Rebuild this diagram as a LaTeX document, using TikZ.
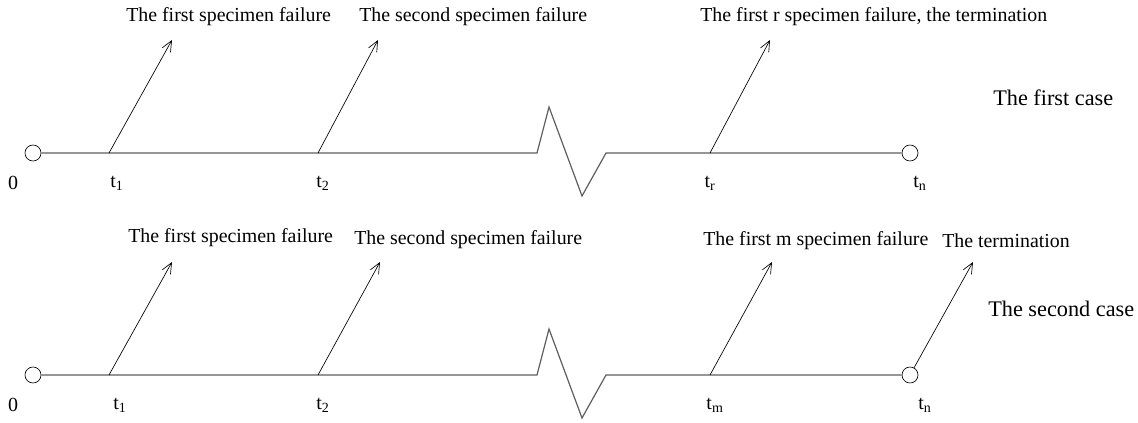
\documentclass[tikz,border=0pt]{standalone}
\usepackage{fontspec}
\setmainfont{Liberation Serif}
\usetikzlibrary{positioning,arrows.meta,calc}
\definecolor{axisgrey}{HTML}{5E5E5E}
\begin{document}
\begin{tikzpicture}[x=0.75pt,y=0.75pt,font=\fontsize{14.9}{17}\selectfont,
  axis/.style={draw=axisgrey,line width=0.9pt},
  endpt/.style={circle,draw,line width=0.5pt,minimum size=12pt,inner sep=0},
  fail/.style={-{Straight Barb[length=8pt,width=7pt]},line width=0.5pt},
  txt/.style={anchor=west,inner sep=0},
  casetxt/.style={txt,font=\fontsize{16.7}{19}\selectfont},
  tlab/.style={inner sep=0,font=\fontsize{15}{17}\selectfont}]
  \useasboundingbox (0,0) rectangle (1138,422);
  \def\timeline#1#2{
    \node[endpt] (o#1) at (33,#2) {};
    \node[endpt] (n#1) at (910,#2) {};
    \coordinate (b#1) at (537,#2);
    \coordinate (c#1) at (606,#2);
    \coordinate (ta#1) at (109,#2);
    \coordinate (tb#1) at (318,#2);
    \coordinate (tc#1) at (710,#2);
    \draw[axis] (o#1) -- (b#1) -- ++(12,46) -- ++(33,-89) -- (c#1) -- (n#1);
    \node[tlab] (z#1) at (13,#2-30) {0};}
  % first case
  \timeline{1}{269}
  \coordinate (pa1) at (172,382);
  \coordinate (pb1) at (378,382);
  \coordinate (pc1) at (770,382);
  \draw[fail] (ta1) -- (pa1);
  \draw[fail] (tb1) -- (pb1);
  \draw[fail] (tc1) -- (pc1);
  \node[txt] (la1) at (126,405) {The first specimen failure};
  \node[txt] (lb1) at (359,405) {The second specimen failure};
  \node[txt] (lc1) at (700,405) {The first r specimen failure, the termination};
  \node[casetxt] (case1) at (993,324) {The first case};
  \node[tlab] (sa1) at (117,239) {t\textsubscript{1}};
  \node[tlab] (sb1) at (323,239) {t\textsubscript{2}};
  \node[tlab] (sc1) at (710,239) {t\textsubscript{r}};
  \node[tlab] (sn1) at (920,239) {t\textsubscript{n}};
  % second case
  \timeline{2}{47}
  \coordinate (pa2) at (172,160);
  \coordinate (pb2) at (380,160);
  \coordinate (pc2) at (772,160);
  \coordinate (pn2) at (973,160);
  \draw[fail] (ta2) -- (pa2);
  \draw[fail] (tb2) -- (pb2);
  \draw[fail] (tc2) -- (pc2);
  \draw[fail] (n2) -- (pn2);
  \node[txt] (la2) at (128,184) {The first specimen failure};
  \node[txt] (lb2) at (354,182) {The second specimen failure};
  \node[txt] (lc2) at (703,181) {The first m specimen failure};
  \node[txt] (ln2) at (942,181) {The termination};
  \node[casetxt] (case2) at (988,113) {The second case};
  \node[tlab] (sa2) at (120,17) {t\textsubscript{1}};
  \node[tlab] (sb2) at (323,17) {t\textsubscript{2}};
  \node[tlab] (sc2) at (715,17) {t\textsubscript{m}};
  \node[tlab] (sn2) at (925,17) {t\textsubscript{n}};
\end{tikzpicture}
\end{document}
